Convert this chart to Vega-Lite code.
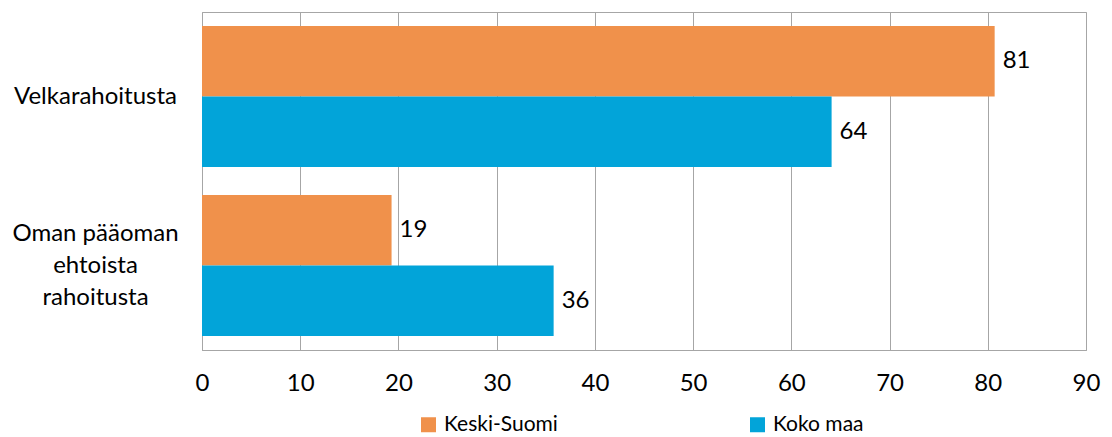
{
  "$schema": "https://vega.github.io/schema/vega-lite/v6.json",
  "width": 884,
  "height": 338,
  "autosize": {"type": "none"},
  "padding": {"left": 202, "top": 12, "right": 26, "bottom": 87},
  "background": "white",
  "config": {
    "font": "Lato",
    "view": {"stroke": "#a6a6a6", "strokeWidth": 1},
    "axis": {"labelFont": "Lato", "labelColor": "#000000", "labelFontSize": 24}
  },
  "data": {
    "values": [
      {"category": "Velkarahoitusta", "series": "Keski-Suomi", "value": 80.7},
      {"category": "Velkarahoitusta", "series": "Koko maa", "value": 64.1},
      {"category": "Oman pääoman ehtoista rahoitusta", "series": "Keski-Suomi", "value": 19.3},
      {"category": "Oman pääoman ehtoista rahoitusta", "series": "Koko maa", "value": 35.8}
    ]
  },
  "encoding": {
    "y": {
      "field": "category",
      "type": "nominal",
      "sort": ["Velkarahoitusta", "Oman pääoman ehtoista rahoitusta"],
      "scale": {"paddingInner": 0.166, "paddingOuter": 0.083},
      "axis": {
        "title": null,
        "ticks": false,
        "domainColor": "#a6a6a6",
        "labelAlign": "center",
        "labelPadding": 107,
        "labelLineHeight": 32,
        "labelLimit": 300,
        "labelOffset": {"condition": {"test": "datum.value == 'Oman pääoman ehtoista rahoitusta'", "value": -32}, "value": 0},
        "labelExpr": "datum.value == 'Oman pääoman ehtoista rahoitusta' ? ['Oman pääoman', 'ehtoista', 'rahoitusta'] : datum.value"
      }
    },
    "yOffset": {
      "field": "series",
      "type": "nominal",
      "scale": {"domain": ["Keski-Suomi", "Koko maa"], "paddingInner": 0, "paddingOuter": 0}
    },
    "x": {
      "field": "value",
      "type": "quantitative",
      "scale": {"domain": [0, 90], "nice": false},
      "axis": {
        "title": null,
        "values": [0, 10, 20, 30, 40, 50, 60, 70, 80, 90],
        "ticks": false,
        "labelPadding": 33,
        "labelBaseline": "middle",
        "domainColor": "#a6a6a6",
        "gridColor": "#a6a6a6",
        "gridOpacity": 1,
        "labelFlush": false
      }
    }
  },
  "layer": [
    {
      "mark": {"type": "bar"},
      "encoding": {
        "color": {
          "field": "series",
          "type": "nominal",
          "scale": {"domain": ["Keski-Suomi", "Koko maa"], "range": ["#F0914B", "#02A4D9"]},
          "legend": {
            "title": null,
            "orient": "none",
            "direction": "horizontal",
            "legendX": 216,
            "legendY": 402,
            "padding": 0,
            "symbolType": "square",
            "symbolSize": 225,
            "symbolStrokeWidth": 0,
            "symbolOpacity": 1,
            "labelFont": "Lato",
            "labelFontSize": 21,
            "labelColor": "#000000",
            "labelOffset": 5,
            "columnPadding": 189,
            "labelLimit": 300
          }
        }
      }
    },
    {
      "mark": {"type": "text", "align": "left", "baseline": "middle", "dx": 8, "fontSize": 24, "font": "Lato", "color": "#000000"},
      "encoding": {
        "text": {"field": "value", "type": "quantitative", "format": ".0f"}
      }
    }
  ]
}
